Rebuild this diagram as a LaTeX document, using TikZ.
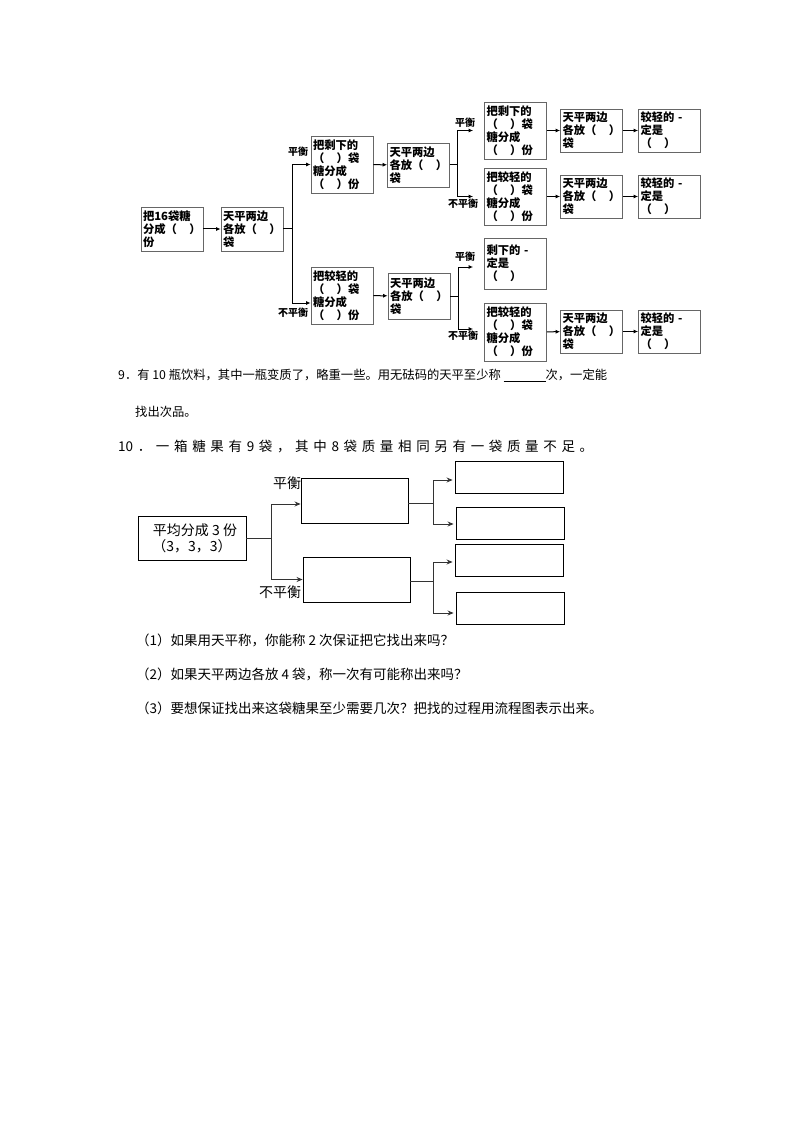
\documentclass[tikz,border=0pt]{standalone}
\usepackage{fontspec}
\setmainfont{Noto Sans CJK SC}
\usetikzlibrary{arrows.meta,calc}
\tikzset{
  >={Stealth[length=1.6mm]},
  pbox/.style={draw=black!60,line width=0.8pt,minimum width=62pt,text width=58pt,
    align=left,inner sep=2pt,font=\fontsize{11.3}{13}\selectfont\bfseries},
  pflow/.style={-{Latex[length=4.5pt,width=4pt]},line width=1pt},
  pline/.style={line width=1pt},
  plbl/.style={font=\fontsize{10}{10}\selectfont\bfseries,inner sep=0pt},
  qbox/.style={draw,line width=0.9pt,inner sep=2pt},
  qflow/.style={-{Stealth[length=6pt,width=5pt]},line width=0.8pt,black!80},
  qline/.style={line width=0.8pt,black!80},
  qlbl/.style={font=\fontsize{14}{15}\selectfont,inner sep=0pt},
  qtxt/.style={font=\fontsize{13.5}{15}\selectfont,anchor=west,inner sep=0pt},
}
\newcommand{\kh}{\mbox{（\hspace{1.1em}）}}

\begin{document}
\begin{tikzpicture}[x=1pt,y=-1pt]
  \useasboundingbox[fill=white] (0,0) rectangle (794,1123);

  % first flow chart
  \node[pbox,minimum height=44pt] (a1) at (172,229) {把16袋糖\\分成\kh\\份};
  \node[pbox,minimum height=44pt] (a2) at (252,229) {天平两边\\各放\kh\\袋};
  \node[pbox,minimum height=57pt] (b1) at (342,164.5) {把剩下的\\\kh 袋\\糖分成\\\kh 份};
  \node[pbox,minimum height=57pt] (b2) at (342,295.5) {把较轻的\\\kh 袋\\糖分成\\\kh 份};
  \node[pbox,minimum height=44pt] (c1) at (418.5,165) {天平两边\\各放\kh\\袋};
  \node[pbox,minimum height=46pt] (c2) at (419,296) {天平两边\\各放\kh\\袋};
  \node[pbox,minimum height=57pt] (d1) at (515.5,130.5) {把剩下的\\\kh 袋\\糖分成\\\kh 份};
  \node[pbox,minimum height=57pt] (d2) at (515.5,196.5) {把较轻的\\\kh 袋\\糖分成\\\kh 份};
  \node[pbox,minimum height=51pt] (d3) at (515.5,263.5) {剩下的 -\\定是\\\kh};
  \node[pbox,minimum height=58pt] (d4) at (515.5,332) {把较轻的\\\kh 袋\\糖分成\\\kh 份};
  \foreach \i/\y in {1/130.5,2/196.5,4/331.5} {
    \node[pbox,minimum height=43pt] (e\i) at (591.5,\y) {天平两边\\各放\kh\\袋};
    \node[pbox,minimum height=43pt] (f\i) at (669.5,\y) {较轻的 -\\定是\\\kh};
  }

  \draw[pflow] (a1) -- (a2);
  \draw[pline] (a2.east) -- ++(9,0) coordinate (k1);
  \draw[pflow] (k1) |- (b1.west);
  \draw[pflow] (k1) |- ([yshift=-7.5pt]b2.west);
  \draw[pflow] (b1) -- (c1);
  \draw[pflow] (b2) -- (c2);
  \draw[pline] (c1.east) -- ++(8,0) coordinate (k2);
  \draw[pflow,shorten >=11pt] (k2) |- (d1.west);
  \draw[pflow,shorten >=11pt] (k2) |- (d2.west);
  \draw[pline] (c2.east) -- ++(8,0) coordinate (k3);
  \draw[pflow,shorten >=11pt] (k3) |- ([yshift=-3.5pt]d3.west);
  \draw[pflow,shorten >=11pt] (k3) |- ([yshift=3pt]d4.west);
  \draw[pflow] (d1) -- (e1);
  \draw[pflow] (d2) -- (e2);
  \draw[pflow] (d4) -- (e4);
  \foreach \i in {1,2,4} \draw[pflow] (e\i) -- (f\i);

  \node[plbl] (l1) at (298,152) {平衡};
  \node[plbl] (l2) at (293,313) {不平衡};
  \node[plbl] (l3) at (465,123) {平衡};
  \node[plbl] (l4) at (463,204) {不平衡};
  \node[plbl] (l5) at (465,257) {平衡};
  \node[plbl] (l6) at (463,336) {不平衡};

  % questions 9 and 10
  \node[qtxt,font=\fontsize{12.3}{15}\selectfont] (q9) at (118,375) {9．有 10 瓶饮料，其中一瓶变质了，略重一些。用无砝码的天平至少称 \rule[-2pt]{42pt}{0.6pt}次，一定能};
  \node[qtxt,font=\fontsize{12.3}{15}\selectfont] (q9b) at (135,412) {找出次品。};
  \node[qtxt] (q10) at (118,447) {\makebox[475pt][s]{10 ． 一 箱 糖 果 有 9 袋 ， 其 中 8 袋 质 量 相 同 另 有 一 袋 质 量 不 足 。}};

  % second flow chart
  \node[qbox,minimum width=108pt,minimum height=44pt,align=center,
    font=\fontsize{14}{16}\selectfont] (g1) at (192,538) {\hspace*{6pt}平均分成 3 份\\（3，3，3）};
  \node[qbox,minimum width=107pt,minimum height=45pt] (h1) at (354.5,500.5) {};
  \node[qbox,minimum width=107pt,minimum height=45pt] (h2) at (356.5,579.5) {};
  \foreach \i/\x/\y in {1/509/477,2/510/523,3/509/560,4/510/608} {
    \node[qbox,minimum width=108pt,minimum height=32pt] (i\i) at (\x,\y) {};
  }

  \draw[qline] (g1.east) -- ++(25,0) coordinate (m1);
  \draw[qflow] (m1) |- ([yshift=-3.5pt]h1.west);
  \draw[qflow] (m1) |- (h2.west);
  \draw[qline] ([yshift=-2.5pt]h1.east) -- ++(25,0) coordinate (m2);
  \draw[qflow,shorten >=2pt] (m2) |- ([yshift=-3pt]i1.west);
  \draw[qflow,shorten >=2pt] (m2) |- ([yshift=-1pt]i2.west);
  \draw[qline] ([yshift=-1.5pt]h2.east) -- ++(23,0) coordinate (m3);
  \draw[qflow,shorten >=2pt] (m3) |- ([yshift=-2pt]i3.west);
  \draw[qflow,shorten >=2pt] (m3) |- ([yshift=-5pt]i4.west);

  \node[qlbl] (n1) at (287,483) {平衡};
  \node[qlbl] (n2) at (280,592) {不平衡};

  % sub-questions
  \node[qtxt] (s1) at (136,640) {（1）如果用天平称，你能称 2 次保证把它找出来吗？};
  \node[qtxt] (s2) at (136,674) {（2）如果天平两边各放 4 袋，称一次有可能称出来吗？};
  \node[qtxt] (s3) at (136,708) {（3）要想保证找出来这袋糖果至少需要几次？把找的过程用流程图表示出来。};
\end{tikzpicture}
\end{document}
